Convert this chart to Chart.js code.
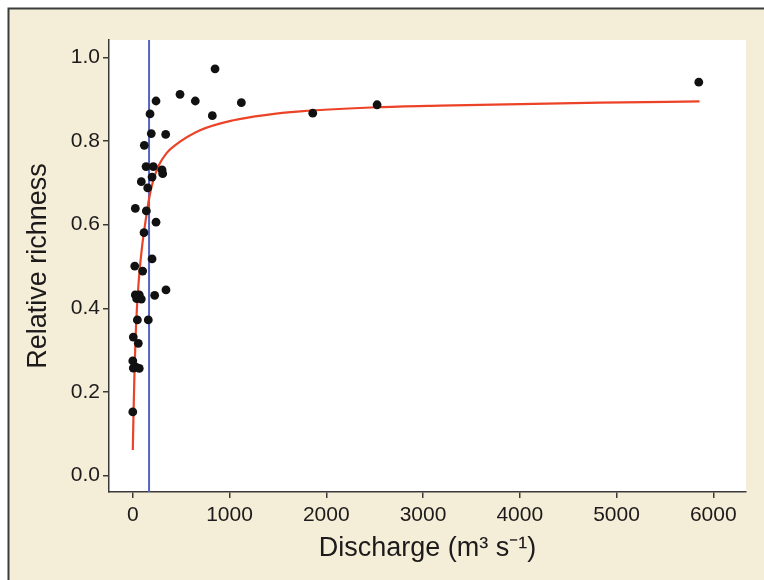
<!DOCTYPE html>
<html>
<head>
<meta charset="utf-8">
<script src="https://cdn.jsdelivr.net/npm/chart.js@4.4.0/dist/chart.umd.min.js"></script>
<style>
html, body { margin: 0; padding: 0; background: #ffffff; }
canvas { display: block; }
</style>
</head>
<body>
<canvas id="richnessChart" width="764" height="580"></canvas>
<script>
// ==================== DATA ====================

// Sampled sites: discharge (m3 s-1) vs relative richness
var siteDischarge = [850, 488, 646, 240, 1122, 822, 178, 191, 340, 119,
                     137, 212, 302, 309, 199, 88, 154, 26, 140, 240,
                     116, 199, 20, 102, 343, 226, 26, 67, 40, 88,
                     47, 160, 5, 57, 0, 5, 67, 33, 0, 1860,
                     2525, 5850];
var siteRichness = [0.973, 0.912, 0.896, 0.896, 0.892, 0.861, 0.865, 0.818, 0.816, 0.790,
                    0.739, 0.739, 0.731, 0.722, 0.714, 0.703, 0.688, 0.639, 0.633, 0.606,
                    0.581, 0.518, 0.501, 0.489, 0.444, 0.431, 0.432, 0.432, 0.423, 0.422,
                    0.372, 0.372, 0.331, 0.316, 0.274, 0.257, 0.256, 0.259, 0.152, 0.867,
                    0.887, 0.941];

// Fitted curve
var fitDischarge = [0, 9, 19, 33, 57, 92, 134, 168, 202, 264, 351, 436, 695, 1040, 1385, 1730, 2522, 3177, 4831, 5858];
var fitRichness = [0.061, 0.165, 0.261, 0.356, 0.452, 0.540, 0.612, 0.662, 0.698, 0.740, 0.772, 0.790, 0.826, 0.850, 0.863, 0.871, 0.881, 0.885, 0.892, 0.895];

// Threshold discharge (vertical blue line)
var thresholdDischarge = 168;

// Axes
var xTickValues = [0, 1000, 2000, 3000, 4000, 5000, 6000];
var yTickValues = [0, 0.2, 0.4, 0.6, 0.8, 1.0];
var xAxisMin = -246;
var xAxisMax = 6338;
var yAxisMin = -0.0397;
var yAxisMax = 1.042;

// ==================== CHART ====================

var textColor = "#1c1a1a";
var axisColor = "#3a3a3a";

function toPoints(xs, ys) {
    var pts = [];
    for (var i = 0; i < xs.length; i++) {
        pts.push({ x: xs[i], y: ys[i] });
    }
    return pts;
}

var framePlugin = {
    id: "frame",
    beforeDraw: function(chart) {
        var ctx = chart.ctx;
        var area = chart.chartArea;
        ctx.save();
        ctx.fillStyle = "#ffffff";
        ctx.fillRect(0, 0, chart.width, chart.height);
        // cream panel with a dark edge on top and left
        ctx.fillStyle = "#f4eed8";
        ctx.fillRect(8, 8, chart.width - 8, chart.height - 8);
        ctx.strokeStyle = "#3c3c3c";
        ctx.lineWidth = 2;
        ctx.beginPath();
        ctx.moveTo(8.5, chart.height);
        ctx.lineTo(8.5, 8.5);
        ctx.lineTo(chart.width, 8.5);
        ctx.stroke();
        // white plot panel
        ctx.fillStyle = "#ffffff";
        ctx.fillRect(area.left, area.top, area.right - area.left, area.bottom - area.top);
        ctx.restore();
    }
};

var ctx = document.getElementById("richnessChart").getContext("2d");

new Chart(ctx, {
    type: "scatter",
    data: {
        datasets: [
            {
                label: "Sites",
                data: toPoints(siteDischarge, siteRichness),
                backgroundColor: "#111111",
                borderWidth: 0,
                pointRadius: 4.4,
                pointHoverRadius: 4.4
            },
            {
                label: "Fit",
                data: toPoints(fitDischarge, fitRichness),
                showLine: true,
                borderColor: "#ec4328",
                borderWidth: 2.2,
                pointRadius: 0,
                cubicInterpolationMode: "monotone"
            },
            {
                label: "Threshold",
                data: [{ x: thresholdDischarge, y: yAxisMin }, { x: thresholdDischarge, y: yAxisMax }],
                showLine: true,
                borderColor: "#5565c0",
                borderWidth: 2,
                pointRadius: 0
            }
        ]
    },
    options: {
        responsive: false,
        animation: false,
        layout: { padding: { top: 40, right: 18, left: 0, bottom: 0 } },
        plugins: {
            legend: { display: false },
            tooltip: { enabled: false }
        },
        scales: {
            x: {
                type: "linear",
                min: xAxisMin,
                max: xAxisMax,
                afterBuildTicks: function(scale) {
                    scale.ticks = xTickValues.map(function(v) { return { value: v }; });
                },
                afterFit: function(scale) { scale.height = 88; },
                border: { display: true, color: axisColor, width: 1.5 },
                grid: {
                    drawOnChartArea: false,
                    drawTicks: true,
                    tickLength: 6,
                    color: axisColor,
                    lineWidth: 1.5
                },
                ticks: {
                    padding: 5,
                    color: textColor,
                    font: { family: "'Liberation Sans', Arial, sans-serif", size: 21 },
                    maxRotation: 0,
                    callback: function(v) { return String(v); }
                },
                title: {
                    display: true,
                    text: "Discharge (m³ s⁻¹)",
                    color: textColor,
                    font: { family: "'Liberation Sans', Arial, sans-serif", size: 27 },
                    padding: { top: 0, bottom: 15 }
                }
            },
            y: {
                type: "linear",
                min: yAxisMin,
                max: yAxisMax,
                afterBuildTicks: function(scale) {
                    scale.ticks = yTickValues.map(function(v) { return { value: v }; });
                },
                afterFit: function(scale) { scale.width = 109; },
                border: { display: true, color: axisColor, width: 1.5 },
                grid: {
                    drawOnChartArea: false,
                    drawTicks: true,
                    tickLength: 6,
                    color: axisColor,
                    lineWidth: 1.5
                },
                ticks: {
                    padding: 3,
                    color: textColor,
                    font: { family: "'Liberation Sans', Arial, sans-serif", size: 21 },
                    callback: function(v) { return v.toFixed(1); }
                },
                title: {
                    display: true,
                    text: "Relative richness",
                    color: textColor,
                    font: { family: "'Liberation Sans', Arial, sans-serif", size: 27 },
                    padding: { top: 22, bottom: 0 }
                }
            }
        }
    },
    plugins: [framePlugin]
});
</script>
</body>
</html>
